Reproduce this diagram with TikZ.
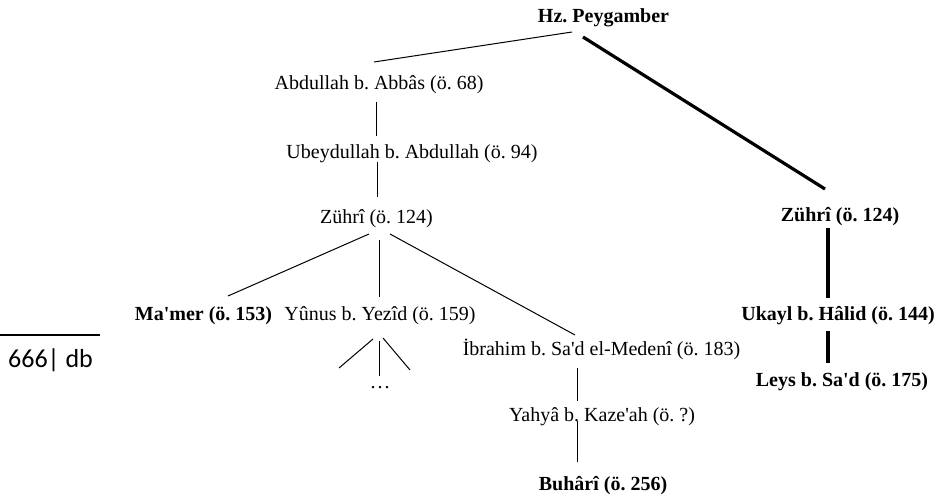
\documentclass[tikz,border=0pt]{standalone}
\usepackage{fontspec}
\setmainfont{Liberation Serif}
\newfontfamily\pagefont{Carlito}
\newcommand\apos{\textquotesingle}
\frenchspacing
\tikzset{
  narrator/.style={font=\fontsize{20}{24}\selectfont, inner sep=0pt, anchor=base},
  narratorbold/.style={narrator, font=\fontsize{20}{24}\selectfont\bfseries},
  link/.style={line width=1pt},
  mainlink/.style={line width=3.2pt},
}
\begin{document}
\begin{tikzpicture}[x=1pt,y=1pt]
  \useasboundingbox (0,0) rectangle (947,501);

  % narrators (placed by baseline)
  \node[narratorbold] (peyg)  at (603.5,478) {Hz. Peygamber};
  \node[narrator]     (abd)   at (379,411)   {Abdullah b. Abbâs (ö. 68)};
  \node[narrator]     (ubey)  at (412,342)   {Ubeydullah b. Abdullah (ö. 94)};
  \node[narrator]     (zuhL)  at (376.5,277) {Zührî (ö. 124)};
  \node[narratorbold] (mamer) at (203.5,180) {Ma\apos mer (ö. 153)};
  \node[narrator]     (yunus) at (380,180)   {Yûnus b. Yezîd (ö. 159)};
  \node[narrator]     (ibr)   at (601.5,146) {İbrahim b. Sa\apos d el-Medenî (ö. 183)};
  \node[narrator]     (yahya) at (602,80)    {Yahyâ b. Kaze\apos ah (ö. ?)};
  \node[narratorbold] (buh)   at (603,11)    {Buhârî (ö. 256)};
  \node[narratorbold] (zuhR)  at (840,279)   {Zührî (ö. 124)};
  \node[narratorbold] (ukayl) at (838,180)   {Ukayl b. Hâlid (ö. 144)};
  \node[narratorbold] (leys)  at (842,115)   {Leys b. Sa\apos d (ö. 175)};
  \node[narrator]     (dots)  at (380,113)   {.\kern2pt.\kern2pt.};

  % thin chain
  \draw[link] ([xshift=-31.5pt,yshift=-9pt]peyg.base) -- ([xshift=-5pt,yshift=28pt]abd.base);
  \draw[link] ([xshift=-3pt,yshift=-12pt]abd.base) -- ([xshift=-36pt,yshift=23pt]ubey.base);
  \draw[link] ([xshift=-34.3pt,yshift=-3pt]ubey.base) -- ([xshift=1.2pt,yshift=27pt]zuhL.base);
  \draw[link] ([xshift=-7.5pt,yshift=-10pt]zuhL.base) -- ([xshift=24.5pt,yshift=25pt]mamer.base);
  \draw[link] ([xshift=2.5pt,yshift=-16pt]zuhL.base) -- ([xshift=-1pt,yshift=24pt]yunus.base);
  \draw[link] ([xshift=13.5pt,yshift=-10pt]zuhL.base) -- ([xshift=-26.5pt,yshift=20pt]ibr.base);
  \draw[link] ([xshift=-7pt,yshift=-18pt]yunus.base) -- ([xshift=-41pt,yshift=20pt]dots.base);
  \draw[link] ([xshift=-1pt,yshift=-20pt]yunus.base) -- ([xshift=-1pt,yshift=12pt]dots.base);
  \draw[link] ([xshift=3pt,yshift=-17pt]yunus.base) -- ([xshift=30pt,yshift=18pt]dots.base);
  \draw[link] ([xshift=-24.5pt,yshift=-13pt]ibr.base) -- ([xshift=-25pt,yshift=20pt]yahya.base);
  \draw[link] ([xshift=-25pt,yshift=0pt]yahya.base) -- ([xshift=-26pt,yshift=28pt]buh.base);

  % thick chain
  \draw[mainlink] ([xshift=-20.5pt,yshift=-14pt]peyg.base) -- ([xshift=-15pt,yshift=33pt]zuhR.base);
  \draw[mainlink] ([xshift=-12pt,yshift=-6pt]zuhR.base) -- ([xshift=-10pt,yshift=23pt]ukayl.base);
  \draw[mainlink] ([xshift=-10pt,yshift=-10pt]ukayl.base) -- ([xshift=-14pt,yshift=23pt]leys.base);

  % page footer
  \coordinate (ruleL) at (0,166);
  \coordinate (ruleR) at (100,166);
  \draw[line width=1.5pt] (ruleL) -- (ruleR);
  \node[anchor=base west, inner sep=0pt, font=\pagefont\fontsize{26}{30}\selectfont] (page) at (8,134) {666| db};
\end{tikzpicture}
\end{document}
